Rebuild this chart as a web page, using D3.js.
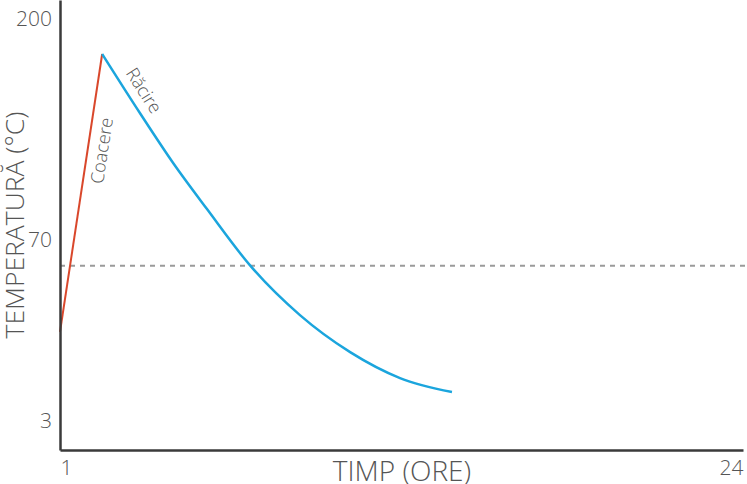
<!DOCTYPE html>
<html>
<head>
<meta charset="utf-8">
<script src="https://cdn.jsdelivr.net/npm/d3@7"></script>
<style>
  html, body { margin: 0; padding: 0; background: #fff; }
  svg { display: block; }
  text { font-family: "Open Sans", "Lato", sans-serif; font-weight: 300; fill: #555; }
</style>
</head>
<body>
<svg id="chart" width="747" height="484"></svg>
<script>
// ---- data ----
const xTickValues = [1, 24];
const yTickValues = [3, 70, 200];
const bakeHours = [1, 2.42];
const bakeTemps = [36, 179.4];
const coolHours = [2.42, 3.69, 4.81, 5.95, 7.4, 9.08, 10.77, 12.45, 14.2];
const coolTemps = [179.4, 144.7, 115.3, 88.2, 60.6, 42.2, 28.5, 18.9, 13.7];
const thresholdTemp = 60.5;
const xTitle = "TIMP (ORE)";
const yTitle = "TEMPERATURĂ (°C)";
const bakeLabel = "Coacere";
const coolLabel = "Răcire";

// ---- layout ----
const W = 747, H = 484;
const mLeft = 60, mRight = 743, mTop = 0, mBottom = 450;

const svg = d3.select("#chart");

const x = d3.scaleLinear().domain([1, 24]).range([mLeft, mRight]);
// schematic (piecewise) temperature axis
const y = d3.scaleLinear()
  .domain([-7.7, 3, 70, 200, 211.2])
  .range([mBottom, 421, 240, 19, mTop]);

// dashed threshold line
svg.append("line")
  .attr("x1", mLeft).attr("x2", W)
  .attr("y1", y(thresholdTemp)).attr("y2", y(thresholdTemp))
  .attr("stroke", "#9a9a9a").attr("stroke-width", 2)
  .attr("stroke-dasharray", "5,5");

const line = d3.line().x(d => x(d[0])).y(d => y(d[1]));

svg.append("path")
  .datum(bakeHours.map((h, i) => [h, bakeTemps[i]]))
  .attr("d", line)
  .attr("fill", "none").attr("stroke", "#d9472b").attr("stroke-width", 2);

svg.append("path")
  .datum(coolHours.map((h, i) => [h, coolTemps[i]]))
  .attr("d", line.curve(d3.curveMonotoneX))
  .attr("fill", "none").attr("stroke", "#1ba5dd").attr("stroke-width", 2.5);

// axes
const xAxis = svg.append("g")
  .attr("transform", `translate(0,${mBottom})`)
  .call(d3.axisBottom(x).tickValues(xTickValues).tickSize(0).tickPadding(10).tickSizeOuter(0));
xAxis.select(".domain").attr("stroke", "#3a3a3a").attr("stroke-width", 2.5);
xAxis.selectAll("text")
  .attr("font-size", 21).attr("fill", "#555")
  .attr("font-family", null)
  .attr("text-anchor", (d, i) => i === 0 ? "start" : "end");

const yAxis = svg.append("g")
  .attr("transform", `translate(${mLeft},0)`)
  .call(d3.axisLeft(y).tickValues(yTickValues).tickSize(0).tickPadding(8).tickSizeOuter(0).tickFormat(d3.format("d")));
yAxis.select(".domain").attr("stroke", "#3a3a3a").attr("stroke-width", 2.5);
yAxis.selectAll("text").attr("font-size", 21).attr("fill", "#555").attr("font-family", null);

// axis titles
svg.append("text")
  .attr("x", 402).attr("y", 480.5)
  .attr("text-anchor", "middle")
  .attr("font-size", 28)
  .text(xTitle);

svg.append("text")
  .attr("transform", `translate(23.5,225) rotate(-90)`)
  .attr("text-anchor", "middle")
  .attr("font-size", 26.5)
  .text(yTitle);

// segment labels
function segLabel(p0, p1, frac, offset, text) {
  const x0 = x(p0[0]), y0 = y(p0[1]), x1 = x(p1[0]), y1 = y(p1[1]);
  const cx = x0 + (x1 - x0) * frac, cy = y0 + (y1 - y0) * frac;
  const ang = Math.atan2(y1 - y0, x1 - x0) * 180 / Math.PI;
  svg.append("text")
    .attr("transform", `translate(${cx},${cy}) rotate(${ang}) translate(0,${offset})`)
    .attr("text-anchor", "middle")
    .attr("dominant-baseline", "middle")
    .attr("font-size", 18)
    .text(text);
}
segLabel([bakeHours[0], bakeTemps[0]], [bakeHours[1], bakeTemps[1]], 0.66, 15.5, bakeLabel);
segLabel([coolHours[0], coolTemps[0]], [coolHours[1], coolTemps[1]], 0.76, -14, coolLabel);
</script>
</body>
</html>
